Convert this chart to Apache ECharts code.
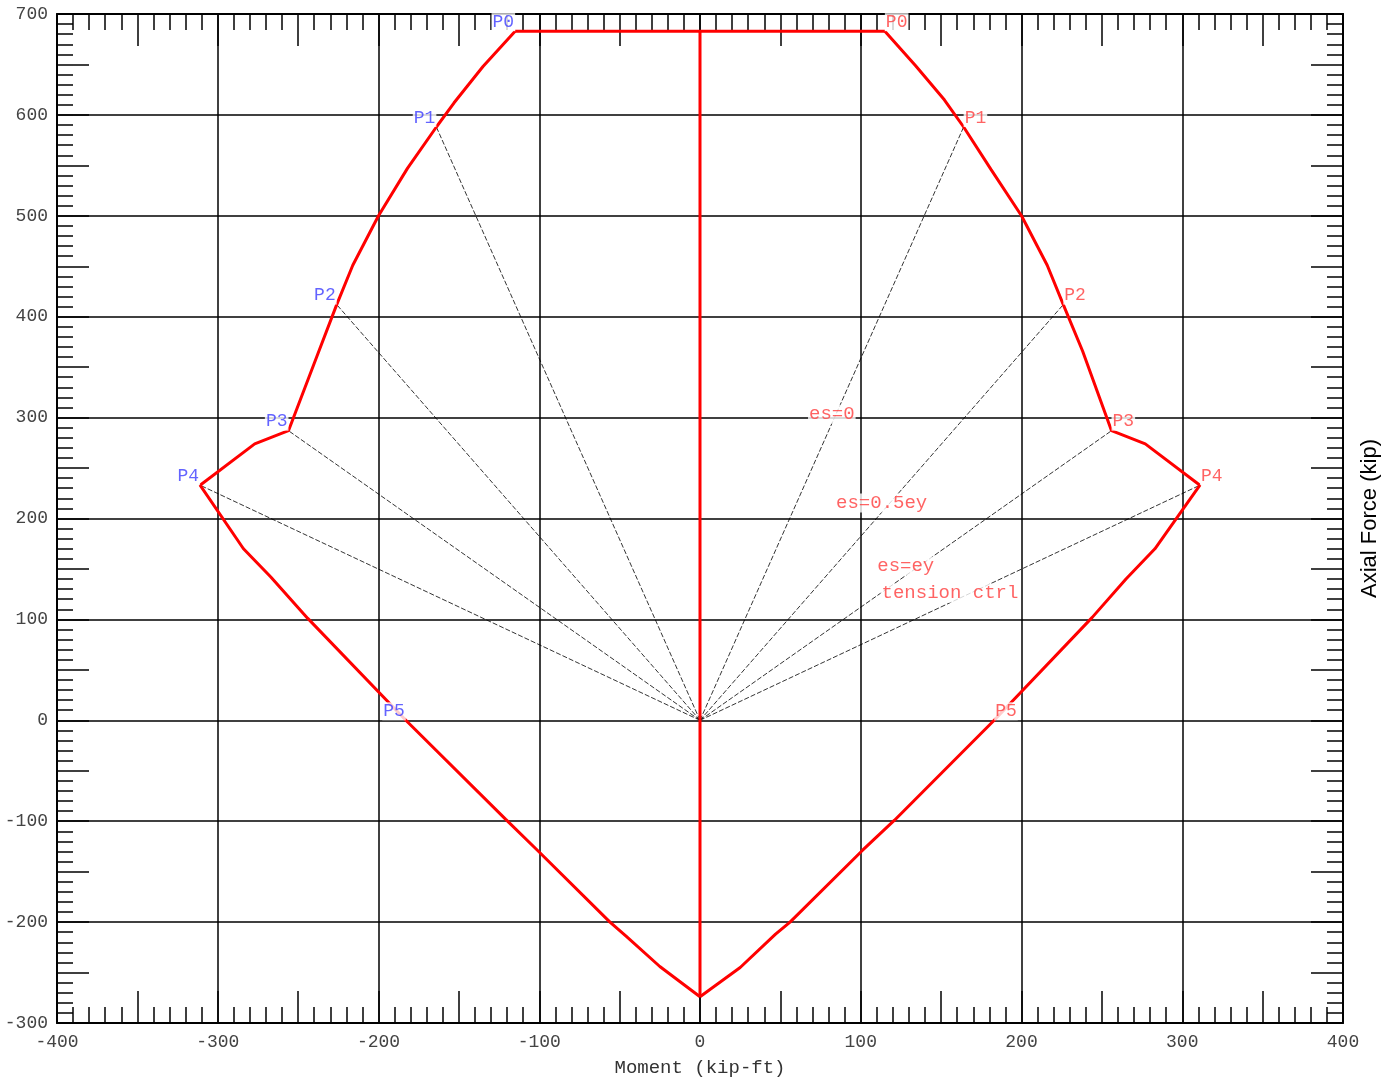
<!DOCTYPE html>
<html><head><meta charset="utf-8">
<script src="https://cdn.jsdelivr.net/npm/echarts@6/dist/echarts.min.js"></script>
<style>html,body{margin:0;padding:0;background:#fff}#c{width:1397px;height:1082px}</style>
</head><body><div id="c"></div>
<script>
// ---- data (kip-ft, kip) ----
const xMin = -400, xMax = 400, yMin = -300, yMax = 700;
const leftCurve = [[-115,683],[-135,648],[-153,612],[-164,588],[-182,547],[-200,500],[-216,451],[-226,412],[-238,362],[-256,287],[-277,274],[-311,233],[-284,170],[-267,142],[-244,101],[-183,0],[-121,-98],[-101,-129],[-56,-200],[-46,-214],[-25,-244],[0,-274]];
const rightCurve = [[115,683],[134,649],[152,615],[164,588],[181,546],[200,500],[216,451],[226,412],[238,366],[256,287],[277,274],[311,233],[283,170],[265,140],[244,102],[183,0],[121,-99],[101,-129],[56,-200],[47,-212],[25,-245],[0,-274]];
const capLine = [[-115,683],[115,683]];
const columnLine = [[0,683],[0,-274]];
const pNames = ['P0','P1','P2','P3','P4','P5'];
const pLeft  = [[-115,683],[-164,588],[-226,412],[-256,287],[-311,233],[-183,0]];
const pRight = [[115,683],[164,588],[226,412],[256,287],[311,233],[183,0]];
const rayOrigin = [0,0];
const rayLeftEnds  = [[-164,588],[-226,412],[-256,287],[-311,233]];
const rayRightEnds = [[164,588],[226,412],[256,287],[311,233]];
const strainNames = ['es=0','es=0.5ey','es=ey','tension ctrl'];

const MONO = '"Liberation Mono", "DejaVu Sans Mono", monospace';
const RED = '#ff0000', LRED = '#ff3c3c', LBLUE = '#3c3cff';

function tickAxis(pos, extra) {
  const vertical = pos === 'left' || pos === 'right';
  return Object.assign({
    type: 'value', position: pos,
    min: vertical ? yMin : xMin, max: vertical ? yMax : xMax, interval: 50,
    axisLine: { show: true, onZero: false, lineStyle: { color: '#000', width: 2 } },
    axisTick: { show: true, inside: true, length: 32, lineStyle: { color: '#000', width: 1.5 } },
    minorTick: { show: true, splitNumber: 5, length: 16, lineStyle: { color: '#000', width: 1.5 } },
    axisLabel: { show: false },
    splitLine: { show: false }
  }, extra || {});
}
function gridAxis(vertical) {
  return {
    type: 'value', position: vertical ? 'left' : 'bottom',
    min: vertical ? yMin : xMin, max: vertical ? yMax : xMax, interval: 100,
    axisLine: { show: false, onZero: false }, axisTick: { show: false }, axisLabel: { show: false },
    splitLine: { show: true, lineStyle: { color: '#000', width: 1.5 } }
  };
}
const labelFmt = v => (v % 100 === 0 ? String(v) : '');
const tickLabel = (margin) => ({ show: true, formatter: labelFmt, margin: margin, color: '#444', fontFamily: MONO, fontSize: 18 });

const redLine = { color: RED, width: 3 };
const series = [];
[leftCurve, rightCurve, capLine, columnLine].forEach(d => series.push({
  type: 'line', data: d, symbol: 'none', lineStyle: redLine, z: 3, silent: true
}));
rayLeftEnds.concat(rayRightEnds).forEach(e => series.push({
  type: 'line', data: [rayOrigin, e], symbol: 'none', z: 2, silent: true,
  lineStyle: { color: '#000', width: 0.8, type: [5, 2] }
}));
function pointLabels(points, color, align) {
  return {
    type: 'scatter', symbolSize: 0, z: 5, silent: true,
    itemStyle: { color: 'rgba(0,0,0,0)' },
    data: points.map((p, i) => ({ value: p, name: pNames[i] })),
    label: { show: true, position: [0, 0], align: align, verticalAlign: 'bottom', formatter: '{b}',
      color: color, fontFamily: MONO, fontSize: 18, lineHeight: 18, backgroundColor: '#fff', padding: [0, 1] }
  };
}
series.push(pointLabels(pLeft, LBLUE, 'right'));
series.push(pointLabels(pRight, LRED, 'left'));
series.push({
  type: 'scatter', symbolSize: 0, z: 5, silent: true,
  itemStyle: { color: 'rgba(0,0,0,0)' },
  data: rayRightEnds.map((e, i) => ({ value: [(rayOrigin[0] + e[0]) / 2, (rayOrigin[1] + e[1]) / 2], name: strainNames[i] })),
  label: { show: true, position: [0, 0], align: 'center', verticalAlign: 'bottom', formatter: '{b}',
    color: LRED, fontFamily: MONO, fontSize: 19, lineHeight: 19, backgroundColor: '#fff', padding: [0, 1] }
});

const chart = echarts.init(document.getElementById('c'));
chart.setOption({
  animation: false,
  backgroundColor: '#fff',
  grid: { left: 57, right: 54, top: 14, bottom: 53 },
  xAxis: [
    tickAxis('bottom', { axisLabel: tickLabel(10), name: 'Moment (kip-ft)', nameLocation: 'middle', nameGap: 35,
      nameTextStyle: { fontFamily: MONO, fontSize: 19, color: '#333' } }),
    tickAxis('top'),
    gridAxis(false)
  ],
  yAxis: [
    tickAxis('left', { axisLabel: tickLabel(9) }),
    tickAxis('right', { name: 'Axial Force (kip)', nameLocation: 'middle', nameGap: 16, nameRotate: 90,
      nameTextStyle: { fontFamily: '"Liberation Sans", Arial, sans-serif', fontSize: 22, color: '#000' } }),
    gridAxis(true)
  ],
  series: series
});
</script></body></html>
